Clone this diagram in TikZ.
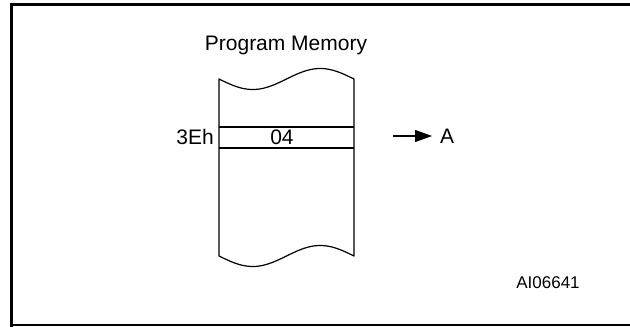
\documentclass[tikz,border=0pt]{standalone}
\usepackage{fontspec}
\setmainfont{Liberation Sans}
\usetikzlibrary{arrows.meta}
\begin{document}
\begin{tikzpicture}[x=1pt,y=1pt,
  lbl/.style={inner sep=0pt,font=\fontsize{21}{25}\selectfont},
  small/.style={inner sep=0pt,font=\fontsize{17}{20}\selectfont},
  mem/.style={line width=1.2pt,line join=round},
  frame/.style={line width=2.8pt}]
\useasboundingbox (0,0) rectangle (630,327);
% frame
\draw[frame] (11.5,0) -- (11.5,322.5) -- (630,322.5);
\draw[line width=1.3pt] (10,2) -- (630,2);
% memory block
\draw[mem] plot[domain=0:1,samples=60] ({219+135*\x},{248-10.5*sin(360*\x)})
  -- (354,71) -- plot[domain=1:0,samples=60] ({219+135*\x},{71-10.5*sin(360*\x)}) -- cycle;
\coordinate (r1l) at (219,200); \coordinate (r1r) at (354,200);
\coordinate (r2l) at (219,179); \coordinate (r2r) at (354,179);
\draw[mem] (r1l) -- (r1r);
\draw[mem] (r2l) -- (r2r);
% texts
\node[lbl] (title) at (286,282) {Program Memory};
\node[lbl,anchor=east] (addr) at (214,190) {3Eh};
\node[lbl] (val) at (282,190) {04};
\node[lbl,anchor=west] (A) at (440,191) {A};
\node[small] (code) at (548,44) {AI06641};
\coordinate (as) at (393,191);
\draw[line width=1.3pt,-{Triangle[length=17pt,width=12pt]},shorten >=8pt] (as) -- (A.west);
\end{tikzpicture}
\end{document}
